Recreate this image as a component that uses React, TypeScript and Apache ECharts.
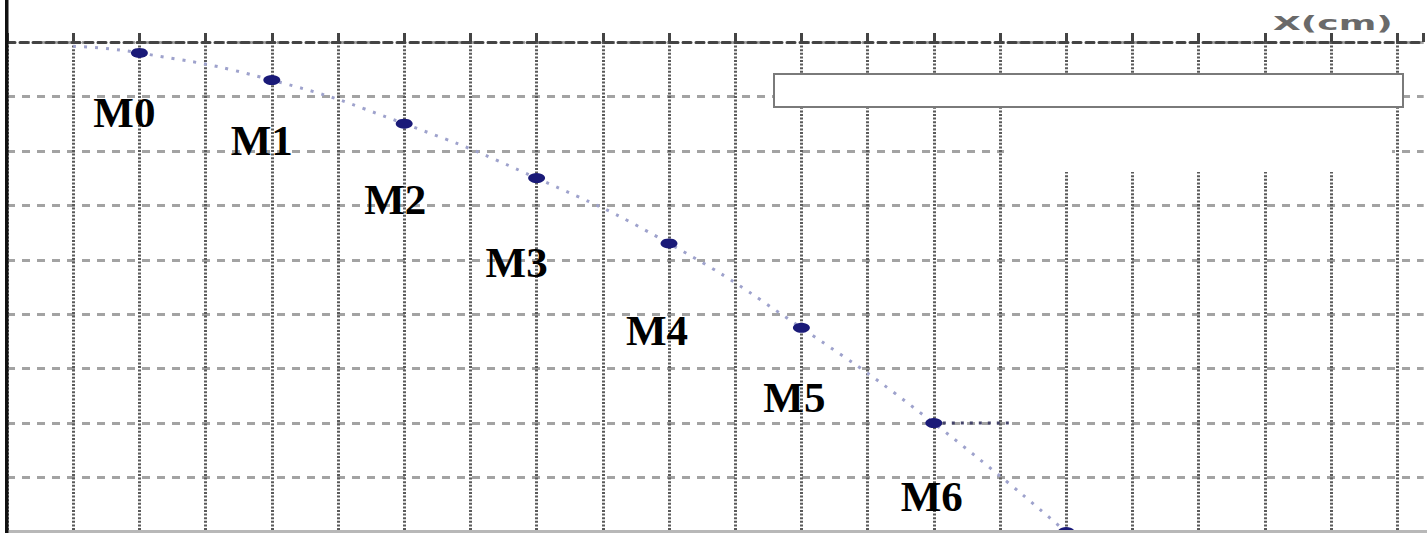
import React, { useEffect, useRef } from "react";
import * as echarts from "echarts";

// Measured positions (grid units: x in cm to the right, y in cm downward)
const pointNames = ["M0", "M1", "M2", "M3", "M4", "M5", "M6", ""];
const pointX = [2, 4, 6, 8, 10, 12, 14, 16];
const pointY = [0.2, 0.7, 1.5, 2.5, 3.7, 5.25, 7.0, 9.0];

// dotted trajectory (starts a little before M0)
const trajStartX = [1.0];
const trajStartY = [0.08];

// short velocity segment drawn from M6
const velocityX = [14, 15.2];
const velocityY = [7.0, 7.0];

const axisName = "X(cm)";

// label offsets in px (style, not data)
const labelOffsets = [
  [-15, 60],
  [-10, 60],
  [-9, 76],
  [-20, 84],
  [-12, 87],
  [-7, 70],
  [-2, 73],
  [0, 0],
];

export default function App() {
  const ref = useRef<HTMLDivElement>(null);

  useEffect(() => {
    if (!ref.current) return;
    const chart = echarts.init(ref.current, undefined, { renderer: "svg" });

    const scatterData = pointX.map((x, i) => ({
      value: [x, pointY[i]],
      name: pointNames[i],
      label: { offset: labelOffsets[i] },
    }));
    const trajData = [
      ...trajStartX.map((x, i) => [x, trajStartY[i]]),
      ...pointX.map((x, i) => [x, pointY[i]]),
    ];
    const velData = velocityX.map((x, i) => [x, velocityY[i]]);

    chart.setOption({
      animation: false,
      backgroundColor: "#ffffff",
      grid: { left: 7, top: 42, width: 66.2 * 21.4, height: 490, containLabel: false },
      xAxis: {
        type: "value",
        position: "top",
        min: 0,
        max: 21.4,
        interval: 1,
        axisLabel: { show: false },
        axisLine: { show: true, lineStyle: { color: "#444", width: 3, type: [8, 5] } },
        axisTick: { show: true, length: 9, lineStyle: { color: "#444", width: 3 } },
        splitLine: {
          show: true,
          showMaxLine: false,
          lineStyle: { color: "#5a5a5a", width: 3, type: [2, 1.6] },
        },
      },
      yAxis: {
        type: "value",
        inverse: true,
        min: 0,
        max: 9,
        interval: 1,
        axisLabel: { show: false },
        axisLine: { show: false },
        axisTick: { show: false },
        splitLine: { show: true, lineStyle: { color: "#a3a3a3", width: 3, type: [8, 7] } },
      },
      series: [
        {
          type: "line",
          data: trajData,
          smooth: true,
          showSymbol: false,
          lineStyle: { color: "#9ea2cc", width: 3, type: [3, 8] },
          z: 3,
        },
        {
          type: "line",
          data: velData,
          showSymbol: false,
          lineStyle: { color: "#44446a", width: 3, type: [3, 6] },
          z: 3,
        },
        {
          type: "scatter",
          data: scatterData,
          symbol: "circle",
          symbolSize: [17, 10],
          itemStyle: { color: "#1a1a78", opacity: 1 },
          label: {
            show: true,
            position: "inside",
            formatter: "{b}",
            fontFamily: "Liberation Serif",
            fontWeight: 900,
            fontSize: 43,
            color: "#000",
            opacity: 1,
            align: "center",
            verticalAlign: "middle",
          },
          z: 5,
        },
      ],
      graphic: [
        // thick left border
        { type: "rect", z: 100, shape: { x: 5, y: 0, width: 3.5, height: 533 }, style: { fill: "#111" } },
        // bottom grey edge
        { type: "rect", z: 50, shape: { x: 7, y: 530, width: 1420, height: 3 }, style: { fill: "#b8b8b8" } },
        // empty box at top right
        {
          type: "rect",
          z: 100,
          shape: { x: 774, y: 74, width: 629, height: 33 },
          style: { fill: "#ffffff", stroke: "#7a7a7a", lineWidth: 2 },
        },
        // erased patch below the box
        {
          type: "rect",
          z: 99,
          shape: { x: 1004, y: 108, width: 388, height: 64 },
          style: { fill: "#ffffff" },
        },
        // axis name
        {
          type: "text",
          z: 100,
          x: 1273,
          y: 33,
          scaleX: 1.9,
          style: {
            text: axisName,
            fontFamily: "DejaVu Sans",
            fontWeight: "bold",
            fontSize: 19,
            fill: "#6a6a6a",
            textVerticalAlign: "bottom",
            verticalAlign: "bottom",
          },
        },
      ],
    });

    return () => chart.dispose();
  }, []);

  return (
    <div
      ref={ref}
      style={{ position: "fixed", left: 0, top: 0, width: 1427, height: 533, background: "#fff" }}
    />
  );
}
